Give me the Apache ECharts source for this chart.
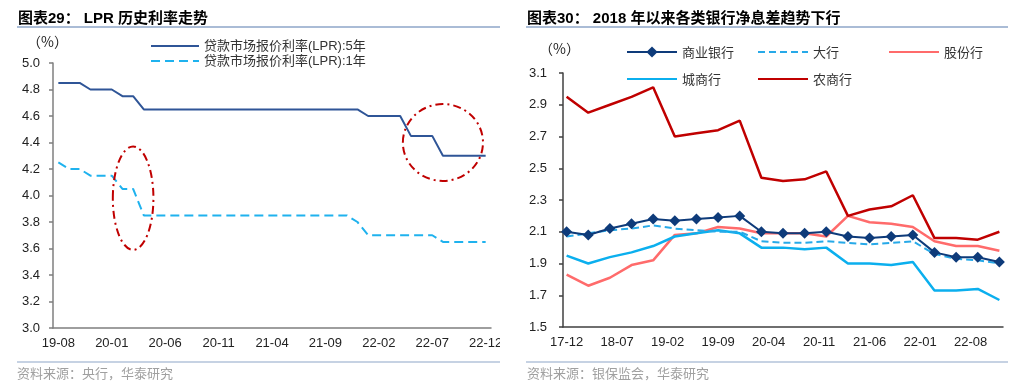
<!DOCTYPE html>
<html><head><meta charset="utf-8">
<script src="https://cdn.jsdelivr.net/npm/echarts@6/dist/echarts.min.js"></script>
<style>
html,body{margin:0;padding:0;background:#fff;}
#c1{position:absolute;left:0;top:0;width:500px;height:390px;}
#c2{position:absolute;left:512px;top:0;width:512px;height:390px;}
</style></head><body>
<div id="c1"></div><div id="c2"></div>
<script>
// ---------- helpers ----------
function monthRange(y, m, ey, em) {
  const out = [];
  while (y < ey || (y === ey && m <= em)) {
    out.push(String(y % 100).padStart(2, '0') + '-' + String(m).padStart(2, '0'));
    m++; if (m > 12) { m = 1; y++; }
  }
  return out;
}

// ---------- Chart 29 data ----------
const lprMonths = monthRange(2019, 8, 2022, 12);
const lprTickLabels = ['19-08','20-01','20-06','20-11','21-04','21-09','22-02','22-07','22-12'];
const lpr5y = [4.85,4.85,4.85,4.80,4.80,4.80,4.75,4.75,
  4.65,4.65,4.65,4.65,4.65,4.65,4.65,4.65,4.65,4.65,4.65,4.65,4.65,4.65,4.65,4.65,4.65,4.65,4.65,4.65,4.65,
  4.60,4.60,4.60,4.60,4.45,4.45,4.45,4.30,4.30,4.30,4.30,4.30];
const lpr1y = [4.25,4.20,4.20,4.15,4.15,4.15,4.05,4.05,
  3.85,3.85,3.85,3.85,3.85,3.85,3.85,3.85,3.85,3.85,3.85,3.85,3.85,3.85,3.85,3.85,3.85,3.85,3.85,3.85,3.80,
  3.70,3.70,3.70,3.70,3.70,3.70,3.70,3.65,3.65,3.65,3.65,3.65];

// ---------- Chart 30 data ----------
const nimMonths = monthRange(2017, 12, 2022, 12);
const nimTickLabels = ['17-12','18-07','19-02','19-09','20-04','20-11','21-06','22-01','22-08'];
const nimQuarters = ['17-12','18-03','18-06','18-09','18-12','19-03','19-06','19-09','19-12','20-03','20-06','20-09','20-12','21-03','21-06','21-09','21-12','22-03','22-06','22-09','22-12'];
const nimAll   = [2.10,2.08,2.12,2.15,2.18,2.17,2.18,2.19,2.20,2.10,2.09,2.09,2.10,2.07,2.06,2.07,2.08,1.97,1.94,1.94,1.91];
const nimBig   = [2.07,2.09,2.11,2.12,2.14,2.12,2.11,2.10,2.10,2.04,2.03,2.03,2.04,2.03,2.02,2.03,2.04,1.96,1.93,1.92,1.90];
const nimJoint = [1.83,1.76,1.81,1.89,1.92,2.08,2.09,2.13,2.12,2.09,2.09,2.09,2.07,2.20,2.16,2.15,2.13,2.04,2.01,2.01,1.98];
const nimCity  = [1.95,1.90,1.94,1.97,2.01,2.07,2.09,2.11,2.09,2.00,2.00,1.99,2.00,1.90,1.90,1.89,1.91,1.73,1.73,1.74,1.67];
const nimRural = [2.95,2.85,2.90,2.95,3.01,2.70,2.72,2.74,2.80,2.44,2.42,2.43,2.48,2.20,2.24,2.26,2.33,2.06,2.06,2.05,2.10];

// annotation ellipses (data-anchored)
const lprMarks = [
  { center: ['20-03', 3.98], rMonths: 1.9, rValue: 0.39 },
  { center: ['22-08', 4.40], rMonths: 3.75, rValue: 0.29 }
];

const FONT = "'Liberation Sans','Noto Sans CJK SC',sans-serif";
const CJK_FONT = "'Noto Sans CJK SC','Liberation Sans',sans-serif";
const AXIS_COLOR = '#7f7f7f';
const RULE_COLOR = '#8EA6C8';
const NO_MARK = { opacity: 0, color: 'rgba(0,0,0,0)', borderWidth: 0 };

function pairs(xs, ys) { return xs.map((x, i) => [x, ys[i]]); }

// ---------- Chart 29 ----------
const c1 = echarts.init(document.getElementById('c1'));
c1.setOption({
  animation: false,
  textStyle: { fontFamily: FONT },
  title: { text: '图表29： LPR 历史利率走势', left: 18, top: 11, padding: 0,
    textStyle: { fontSize: 15, fontWeight: 'bold', color: '#000', fontFamily: FONT } },
  grid: { left: 53, right: 9, top: 63, bottom: 62, outerBoundsMode: 'none', containLabel: false },
  legend: {
    orient: 'vertical', left: 150, top: 39, padding: 0, itemWidth: 48, itemHeight: 12, itemGap: 1,
    itemStyle: NO_MARK,
    textStyle: { fontSize: 13, color: '#333', lineHeight: 14, fontFamily: FONT },
    data: ['贷款市场报价利率(LPR):5年', '贷款市场报价利率(LPR):1年']
  },
  xAxis: {
    type: 'category', data: lprMonths, boundaryGap: true,
    axisLine: { lineStyle: { color: AXIS_COLOR, width: 1.5 } },
    axisTick: { length: 4, interval: (i, v) => lprTickLabels.includes(v), lineStyle: { color: AXIS_COLOR, width: 1.5 } },
    axisLabel: { interval: (i, v) => lprTickLabels.includes(v), fontSize: 13, color: '#222', margin: 9, fontFamily: FONT,
      hideOverlap: false }
  },
  yAxis: {
    type: 'value', min: 3, max: 5, interval: 0.2, splitLine: { show: false },
    axisLine: { show: true, lineStyle: { color: AXIS_COLOR, width: 1.5 } },
    axisTick: { show: true, length: 4, lineStyle: { color: AXIS_COLOR, width: 1.5 } },
    axisLabel: { formatter: v => v.toFixed(1), fontSize: 13, color: '#222', margin: 13, fontFamily: FONT }
  },
  series: [
    { name: '贷款市场报价利率(LPR):5年', type: 'line', data: lpr5y, symbol: 'none',
      lineStyle: { color: '#2F5597', width: 2 }, itemStyle: { color: '#2F5597' } },
    { name: '贷款市场报价利率(LPR):1年', type: 'line', data: lpr1y, symbol: 'none',
      lineStyle: { color: '#1FB2EE', width: 2, type: [9, 5] }, itemStyle: { color: '#1FB2EE' } }
  ]
});
(function () {
  const cw = c1.convertToPixel({ xAxisIndex: 0 }, 1) - c1.convertToPixel({ xAxisIndex: 0 }, 0);
  const vu = c1.convertToPixel({ yAxisIndex: 0 }, 3) - c1.convertToPixel({ yAxisIndex: 0 }, 4);
  const els = [
    { type: 'line', shape: { x1: 17, y1: 27, x2: 500, y2: 27 }, style: { stroke: RULE_COLOR, lineWidth: 1.5 } },
    { type: 'line', shape: { x1: 17, y1: 362, x2: 500, y2: 362 }, style: { stroke: RULE_COLOR, lineWidth: 1.2 } },
    { type: 'text', left: 17, top: 367, style: { text: '资料来源：央行，华泰研究', fill: '#a0a0a0', font: '13px ' + CJK_FONT } },
    { type: 'text', left: 27, top: 35, style: { text: '（%）', fill: '#222', font: '14px ' + CJK_FONT } }
  ];
  lprMarks.forEach(m => {
    const p = c1.convertToPixel({ gridIndex: 0 }, m.center);
    els.push({ type: 'ellipse', shape: { cx: p[0], cy: p[1], rx: m.rMonths * cw, ry: m.rValue * vu },
      style: { fill: 'none', stroke: '#C00000', lineWidth: 2, lineDash: [8, 4, 2, 4] }, z: 10 });
  });
  c1.setOption({ graphic: els });
})();

// ---------- Chart 30 ----------
const c2 = echarts.init(document.getElementById('c2'));
const legendBase = { padding: 0, itemWidth: 50, itemHeight: 14, textStyle: { fontSize: 13, color: '#333', lineHeight: 14, fontFamily: CJK_FONT } };
c2.setOption({
  animation: false,
  textStyle: { fontFamily: FONT },
  title: { text: '图表30： 2018 年以来各类银行净息差趋势下行', left: 15, top: 11, padding: 0,
    textStyle: { fontSize: 15, fontWeight: 'bold', color: '#000', fontFamily: FONT } },
  grid: { left: 51, right: 21, top: 73, bottom: 63, outerBoundsMode: 'none', containLabel: false },
  legend: [
    Object.assign({ data: ['商业银行'], left: 114, top: 45 }, legendBase),
    Object.assign({ data: ['大行'], left: 245, top: 45, itemStyle: NO_MARK }, legendBase),
    Object.assign({ data: ['股份行'], left: 376, top: 45, itemStyle: NO_MARK }, legendBase),
    Object.assign({ data: ['城商行'], left: 114, top: 72, itemStyle: NO_MARK }, legendBase),
    Object.assign({ data: ['农商行'], left: 245, top: 72, itemStyle: NO_MARK }, legendBase)
  ],
  xAxis: {
    type: 'category', data: nimMonths, boundaryGap: true,
    axisLine: { lineStyle: { color: '#404040', width: 1.5 } },
    axisTick: { length: 4, interval: (i, v) => nimTickLabels.includes(v), lineStyle: { color: '#404040', width: 1.5 } },
    axisLabel: { interval: (i, v) => nimTickLabels.includes(v), fontSize: 13, color: '#222', margin: 9, fontFamily: FONT }
  },
  yAxis: {
    type: 'value', min: 1.5, max: 3.1, interval: 0.2, splitLine: { show: false },
    axisLine: { show: true, lineStyle: { color: '#404040', width: 1.5 } },
    axisTick: { show: true, length: 4, lineStyle: { color: '#404040', width: 1.5 } },
    axisLabel: { formatter: v => v.toFixed(1), fontSize: 13, color: '#222', margin: 16, fontFamily: FONT }
  },
  series: [
    { name: '商业银行', type: 'line', data: pairs(nimQuarters, nimAll), symbol: 'diamond', symbolSize: 11, z: 6,
      showSymbol: true, showAllSymbol: true,
      lineStyle: { color: '#0E3B7A', width: 2 }, itemStyle: { color: '#0E3B7A' } },
    { name: '大行', type: 'line', data: pairs(nimQuarters, nimBig), symbol: 'none', z: 5,
      lineStyle: { color: '#27A9E8', width: 2, type: [7, 4] }, itemStyle: { color: '#27A9E8' } },
    { name: '股份行', type: 'line', data: pairs(nimQuarters, nimJoint), symbol: 'none',
      lineStyle: { color: '#FF6B6B', width: 2.5 }, itemStyle: { color: '#FF6B6B' } },
    { name: '城商行', type: 'line', data: pairs(nimQuarters, nimCity), symbol: 'none',
      lineStyle: { color: '#0BAFEE', width: 2.5 }, itemStyle: { color: '#0BAFEE' } },
    { name: '农商行', type: 'line', data: pairs(nimQuarters, nimRural), symbol: 'none',
      lineStyle: { color: '#C00000', width: 2.5 }, itemStyle: { color: '#C00000' } }
  ],
  graphic: [
    { type: 'line', shape: { x1: 14, y1: 27, x2: 496, y2: 27 }, style: { stroke: RULE_COLOR, lineWidth: 1.5 } },
    { type: 'line', shape: { x1: 14, y1: 362, x2: 496, y2: 362 }, style: { stroke: RULE_COLOR, lineWidth: 1.2 } },
    { type: 'text', left: 15, top: 367, style: { text: '资料来源：银保监会，华泰研究', fill: '#a0a0a0', font: '13px ' + CJK_FONT } },
    { type: 'text', left: 27, top: 42, style: { text: '（%）', fill: '#222', font: '14px ' + CJK_FONT } }
  ]
});
</script>
</body></html>
